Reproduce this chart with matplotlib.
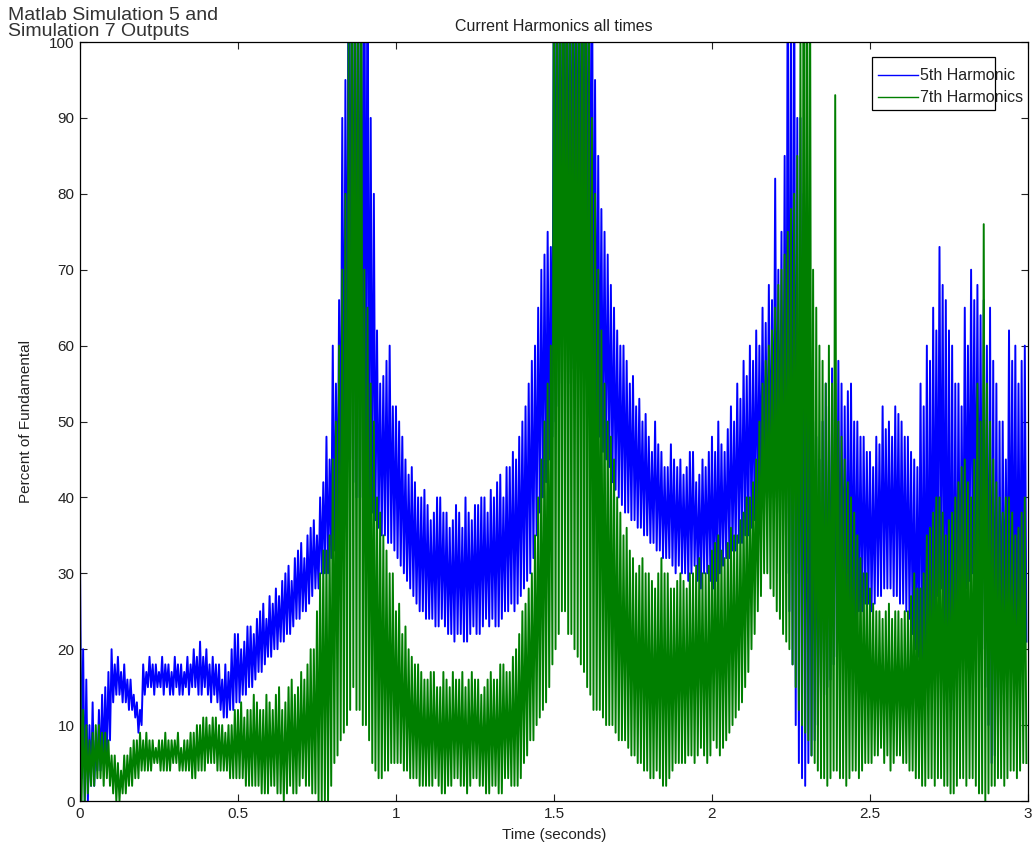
import numpy as np
import matplotlib.pyplot as plt
from matplotlib.patches import Rectangle

plt.rcParams['font.family'] = ['Liberation Sans', 'DejaVu Sans']

# Envelope readings every 0.01 s: peak at t, trough at t + 0.005
# (values above 100 run off the top of the axes, as in the original)
step = 0.01

hi5 = [32, 20, 16, 10, 13, 8, 12, 14, 15, 17,
       20, 18, 19, 17, 18, 16, 16, 14, 13, 12,
       18, 17, 19, 18, 18, 17, 19, 18, 18, 17,
       19, 18, 18, 17, 19, 18, 20, 19, 21, 19,
       20, 18, 19, 18, 18, 16, 18, 17, 20, 22,
       22, 20, 21, 23, 23, 22, 24, 25, 26, 24,
       27, 26, 28, 27, 29, 30, 31, 29, 32, 33,
       34, 32, 35, 36, 37, 35, 40, 42, 48, 45,
       60, 55, 66, 90, 95, 120, 120, 120, 120, 120,
       120, 120, 90, 80, 62, 55, 56, 58, 60, 52,
       52, 50, 48, 45, 43, 44, 42, 40, 40, 41,
       39, 37, 38, 40, 40, 38, 38, 36, 37, 39,
       38, 36, 40, 38, 37, 39, 39, 40, 40, 38,
       41, 40, 42, 43, 40, 44, 44, 46, 45, 48,
       50, 52, 55, 58, 60, 65, 70, 72, 75, 73,
       120, 120, 120, 120, 120, 120, 120, 120, 120, 120,
       120, 120, 120, 95, 85, 78, 75, 72, 68, 65,
       62, 60, 60, 58, 55, 56, 52, 53, 50, 51,
       48, 46, 50, 47, 46, 44, 44, 47, 45, 44,
       45, 43, 44, 46, 46, 42, 43, 45, 44, 46,
       48, 46, 50, 47, 46, 49, 52, 50, 55, 53,
       58, 56, 60, 58, 62, 60, 65, 63, 68, 66,
       82, 70, 75, 85, 120, 100, 120, 90, 90, 80,
       65, 55, 50, 48, 45, 50, 55, 52, 57, 55,
       58, 55, 52, 54, 55, 50, 50, 48, 48, 46,
       46, 44, 48, 47, 52, 49, 50, 48, 52, 51,
       50, 48, 48, 46, 45, 44, 55, 52, 60, 58,
       65, 62, 73, 68, 66, 62, 60, 55, 55, 52,
       65, 60, 70, 66, 68, 64, 66, 60, 65, 58,
       55, 50, 50, 45, 62, 58, 60, 55, 58, 60]
lo5 = [3, 0, 0, 2, 2, 4, 4, 5, 6, 8,
       13, 14, 14, 13, 13, 12, 12, 11, 9, 10,
       14, 15, 15, 14, 15, 15, 14, 15, 14, 14,
       15, 14, 14, 15, 14, 15, 15, 14, 14, 15,
       14, 13, 14, 13, 12, 11, 11, 12, 12, 13,
       13, 14, 14, 15, 15, 16, 17, 17, 18, 19,
       19, 20, 20, 21, 21, 22, 22, 23, 24, 24,
       25, 25, 26, 27, 28, 28, 30, 30, 30, 32,
       33, 35, 38, 42, 45, 45, 42, 40, 40, 40,
       40, 39, 38, 37, 36, 35, 35, 34, 34, 33,
       32, 31, 30, 29, 28, 27, 26, 25, 25, 24,
       24, 24, 23, 23, 24, 23, 22, 22, 21, 22,
       22, 21, 21, 22, 23, 22, 22, 23, 24, 23,
       24, 23, 23, 24, 25, 25, 26, 25, 26, 27,
       28, 29, 30, 32, 35, 38, 40, 42, 45, 48,
       50, 52, 55, 55, 55, 57, 60, 58, 58, 56,
       55, 53, 52, 50, 48, 46, 45, 44, 42, 41,
       40, 39, 38, 38, 37, 37, 36, 36, 35, 35,
       34, 34, 33, 33, 32, 32, 32, 31, 30, 31,
       30, 30, 29, 30, 31, 29, 28, 30, 30, 29,
       28, 29, 30, 31, 32, 32, 33, 33, 34, 34,
       35, 35, 36, 37, 38, 39, 40, 40, 40, 41,
       40, 38, 35, 30, 25, 18, 10, 5, 3, 2,
       5, 6, 8, 10, 12, 14, 15, 16, 18, 19,
       20, 21, 22, 23, 24, 24, 25, 25, 26, 26,
       25, 26, 27, 27, 28, 28, 28, 27, 27, 26,
       26, 25, 24, 22, 20, 19, 18, 16, 15, 20,
       25, 27, 28, 22, 15, 13, 12, 15, 20, 24,
       28, 29, 30, 28, 25, 20, 15, 10, 5, 6,
       8, 14, 20, 21, 22, 20, 18, 19, 20, 21]

hi7 = [23, 12, 10, 8, 9, 10, 10, 9, 9, 8,
       6, 6, 5, 4, 6, 6, 7, 8, 8, 9,
       8, 9, 8, 8, 7, 8, 8, 9, 8, 8,
       8, 9, 7, 8, 8, 9, 9, 10, 10, 11,
       11, 10, 11, 11, 10, 10, 9, 10, 10, 12,
       12, 13, 11, 12, 12, 14, 13, 12, 12, 14,
       13, 12, 14, 15, 12, 13, 15, 16, 14, 15,
       17, 16, 18, 20, 20, 25, 30, 33, 33, 35,
       45, 50, 60, 70, 80, 100, 120, 120, 120, 120,
       70, 65, 55, 50, 40, 38, 35, 33, 30, 30,
       25, 26, 22, 23, 20, 19, 18, 18, 17, 16,
       16, 17, 17, 15, 15, 17, 16, 15, 17, 16,
       16, 17, 15, 16, 17, 16, 16, 14, 15, 16,
       17, 16, 16, 18, 18, 17, 17, 19, 20, 22,
       25, 26, 28, 30, 35, 40, 45, 50, 55, 60,
       120, 120, 120, 120, 120, 120, 120, 120, 120, 120,
       120, 110, 90, 80, 70, 62, 55, 50, 48, 45,
       40, 38, 35, 36, 33, 32, 30, 31, 32, 30,
       30, 29, 28, 30, 32, 30, 30, 28, 28, 29,
       30, 29, 28, 30, 30, 31, 32, 30, 30, 31,
       33, 34, 35, 33, 32, 34, 36, 35, 35, 37,
       38, 40, 40, 42, 45, 50, 55, 58, 60, 62,
       65, 68, 70, 72, 75, 78, 80, 85, 100, 120,
       120, 120, 70, 65, 60, 58, 55, 60, 55, 93,
       50, 48, 45, 42, 40, 38, 35, 32, 30, 30,
       28, 26, 25, 25, 24, 25, 26, 24, 25, 25,
       24, 25, 25, 27, 30, 28, 28, 30, 35, 36,
       38, 40, 40, 38, 35, 37, 38, 40, 42, 44,
       45, 42, 40, 45, 55, 50, 76, 55, 50, 45,
       42, 40, 38, 40, 40, 38, 35, 36, 38, 40]
lo7 = [0, 0, 1, 2, 2, 3, 3, 2, 3, 2,
       1, 0, 0, 1, 1, 2, 2, 3, 3, 4,
       4, 4, 4, 5, 5, 4, 4, 4, 4, 5,
       5, 4, 4, 4, 4, 3, 3, 4, 4, 4,
       5, 5, 5, 4, 4, 4, 4, 3, 3, 3,
       3, 3, 2, 2, 2, 2, 2, 1, 1, 1,
       2, 2, 1, 1, 0, 1, 2, 1, 1, 2,
       3, 2, 2, 1, 1, 0, 0, 0, 0, 2,
       5, 6, 8, 9, 10, 12, 15, 12, 12, 10,
       10, 8, 5, 4, 3, 3, 4, 4, 5, 5,
       5, 5, 4, 4, 3, 3, 3, 2, 2, 2,
       2, 2, 3, 2, 1, 1, 2, 2, 3, 3,
       2, 2, 1, 2, 3, 3, 2, 2, 1, 1,
       2, 2, 1, 1, 3, 3, 2, 2, 2, 3,
       5, 6, 8, 8, 10, 11, 12, 13, 15, 18,
       20, 22, 25, 25, 22, 22, 20, 19, 18, 17,
       15, 14, 12, 12, 12, 11, 10, 10, 10, 9,
       8, 8, 8, 7, 6, 6, 5, 5, 4, 4,
       3, 3, 4, 3, 2, 2, 3, 4, 5, 5,
       5, 5, 6, 6, 5, 6, 7, 6, 5, 6,
       8, 7, 6, 7, 8, 9, 10, 11, 12, 13,
       15, 17, 20, 22, 25, 27, 30, 30, 28, 27,
       25, 24, 22, 21, 20, 18, 15, 12, 10, 9,
       8, 6, 5, 4, 3, 3, 2, 3, 4, 4,
       3, 3, 2, 3, 4, 4, 3, 4, 5, 5,
       5, 6, 6, 7, 5, 6, 4, 5, 6, 6,
       5, 5, 4, 4, 3, 3, 2, 2, 3, 3,
       2, 3, 3, 2, 2, 1, 1, 2, 3, 3,
       2, 3, 3, 2, 1, 1, 0, 1, 2, 2,
       3, 3, 2, 3, 4, 4, 3, 4, 5, 5]

series = [('5th Harmonic', hi5, lo5, '#0000ff'),
          ('7th Harmonics', hi7, lo7, '#007f00')]

fig = plt.figure(figsize=(10.32, 8.47), dpi=100)
ax = fig.add_axes([0.0775, 0.0543, 0.9186, 0.8961])

for name, hi, lo, col in series:
    t = np.arange(len(hi)) * step
    x = np.column_stack([t, t + step / 2]).ravel()
    y = np.column_stack([hi, lo]).ravel()
    ax.plot(x, y, color=col, lw=1.4, label=name)

ax.set_xlim(0, 3)
ax.set_ylim(0, 100)
ax.set_xticks([0, 0.5, 1, 1.5, 2, 2.5, 3])
ax.set_xticklabels(['0', '0.5', '1', '1.5', '2', '2.5', '3'])
ax.set_yticks(range(0, 101, 10))
ax.tick_params(direction='in', top=True, right=True, length=5, width=0.8,
               labelsize=11, pad=4, colors='#222222')
for s in ax.spines.values():
    s.set_linewidth(0.9)

ax.set_title('Current Harmonics all times', fontsize=11.5, pad=8, color='#222222')
ax.set_xlabel('Time (seconds)', fontsize=11, color='#222222')
ax.set_ylabel('Percent of Fundamental', fontsize=11, color='#222222')
ax.xaxis.set_label_coords(0.5, -0.036)
ax.yaxis.set_label_coords(-0.05, 0.5)

# legend drawn like the MATLAB box, text spilling past the frame
ax.add_patch(Rectangle((0.8354, 0.910), 0.1298, 0.070, transform=ax.transAxes,
                       facecolor='white', edgecolor='black', lw=0.9, zorder=5))
for row, (name, hi, lo, col) in zip([0.9565, 0.9275], series):
    ax.plot([0.842, 0.884], [row, row], color=col, lw=1.0,
            transform=ax.transAxes, zorder=6)
    ax.text(0.886, row, name, transform=ax.transAxes, fontsize=11.5,
            va='center', ha='left', zorder=6, color='#222222', clip_on=False)

fig.text(0.008, 0.992, 'Matlab Simulation 5 and\nSimulation 7 Outputs',
         fontsize=14, va='top', ha='left', color='#333333', linespacing=0.95)

fig.savefig('out.png', dpi=100)
